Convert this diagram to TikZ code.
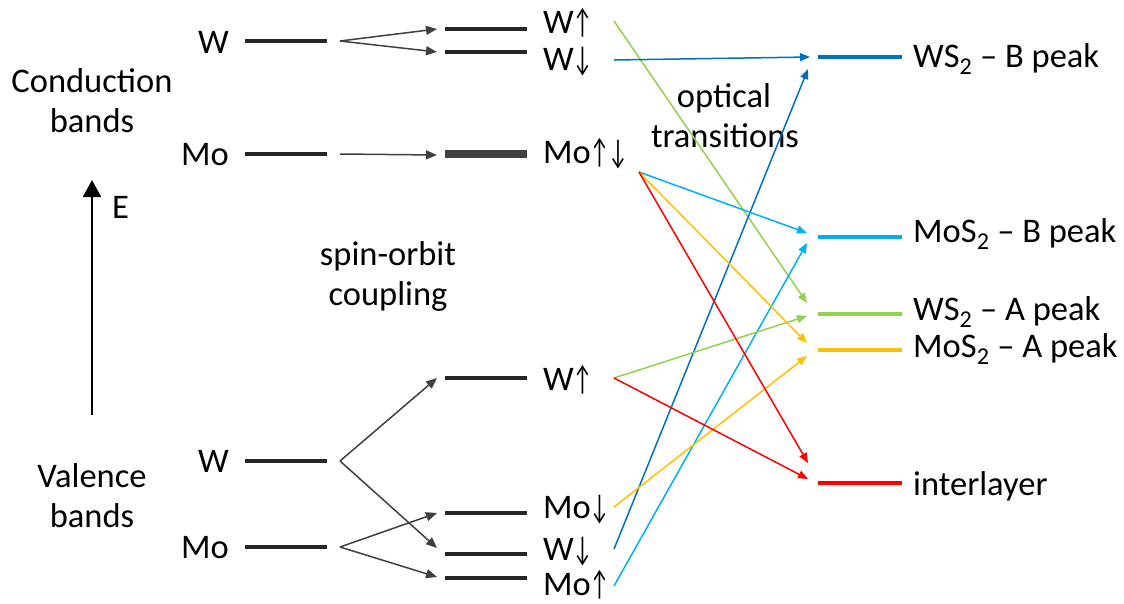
\documentclass[tikz,border=0pt]{standalone}
\usepackage{fontspec}
\setmainfont{Carlito}
\usepackage{xcolor}
\usetikzlibrary{arrows.meta}

\definecolor{lvlgray}{HTML}{262626}
\definecolor{arrgray}{HTML}{404040}
\definecolor{cWsB}{HTML}{0070C0}
\definecolor{cMsB}{HTML}{00B0F0}
\definecolor{cWsA}{HTML}{92D050}
\definecolor{cMsA}{HTML}{FFC000}
\definecolor{cIlay}{HTML}{FF0000}

\newcommand{\spu}{\kern-1pt\scalebox{0.62}[1]{↑}}
\newcommand{\spd}{\kern-1pt\scalebox{0.62}[1]{↓}}

\tikzset{
    lvl/.style={fill=lvlgray, inner sep=0pt, outer sep=0pt, minimum width=82pt, minimum height=4pt},
    split/.style={draw=arrgray, line width=1.5pt, -{Triangle[length=11pt,width=9pt]}},
    trans/.style={draw=#1, line width=1.5pt, -{Triangle[length=10pt,width=8pt]}},
    lab/.style={inner sep=0pt},
}

\begin{document}
\begin{tikzpicture}[x=1pt, y=-1pt, font=\fontsize{34.5}{41}\selectfont]
    \useasboundingbox (0,0) rectangle (1124,603);

    % energy axis
    \coordinate (ebot) at (92,415);
    \coordinate (etop) at (92,180);
    \draw[line width=2pt, -{Triangle[length=17pt,width=18pt]}] (ebot) -- (etop);
    \node[lab, anchor=base west] (elab) at (112,218) {E};
    \node[lab, anchor=base] (cond) at (92,92) {Conduction};
    \node[lab, anchor=base] (condb) at (92,132) {bands};
    \node[lab, anchor=base] (val) at (92,487) {Valence};
    \node[lab, anchor=base] (valb) at (92,527) {bands};

    % levels
    \foreach \nm/\x/\y in {wc/286/41, mc/286/154, wv/286/461, mv/286/547,
                           wcu/486/29, wcd/486/52, wvu/486/378, mvd/486/513, wvd/486/554, mvu/486/578}
        \node[lvl] (\nm) at (\x,\y) {};
    \node[lvl, fill=arrgray, minimum height=8pt] (mcud) at (486,154) {};
    \foreach \nm/\y/\col in {wsb/57/cWsB, msb/237/cMsB, wsa/314/cWsA, msa/350/cMsA, ilay/483/cIlay}
        \node[lvl, fill=\col, minimum width=84pt, minimum height=4.5pt] (\nm) at (860,\y) {};

    % level labels
    \foreach \nm/\txt/\y in {wc/W/53, mc/Mo/165, wv/W/472, mv/Mo/558}
        \node[lab, anchor=base east] (l\nm) at (229,\y) {\txt};
    \foreach \nm/\txt/\y in {wcu/W\spu/33, wcd/W\spd/70, mcud/Mo\spu\spd/163, wvu/W\spu/390,
                             mvd/Mo\spd/518, wvd/W\spd/560, mvu/Mo\spu/595}
        \node[lab, anchor=base west] (l\nm) at (543,\y) {\txt};
    \foreach \nm/\txt/\y in {wsb/{WS\textsubscript{2} – B peak}/67, msb/{MoS\textsubscript{2} – B peak}/242,
                             wsa/{WS\textsubscript{2} – A peak}/320, msa/{MoS\textsubscript{2} – A peak}/357, ilay/interlayer/495}
        \node[lab, anchor=base west] (l\nm) at (913,\y) {\txt};

    \node[lab, anchor=base] (soc) at (388,265) {spin-orbit};
    \node[lab, anchor=base] (socb) at (388,305) {coupling};
    \node[lab, anchor=base] (opt) at (724,107) {optical};
    \node[lab, anchor=base] (optb) at (725,147) {transitions};

    % spin-orbit splitting
    \foreach \a/\b/\dy in {wc/wcu/0, wc/wcd/0, mc/mcud/1, wv/wvu/0, wv/wvd/-6, mv/mvd/0, mv/mvu/-1}
        \draw[split] ([xshift=13pt]\a.east) -- ([shift={(-8,\dy)}]\b.west);

    % optical transitions
    \coordinate (swcu) at (614,21);
    \coordinate (swcd) at (614,60);
    \coordinate (smcud) at (639,172);
    \coordinate (swvu) at (614,378);
    \coordinate (smvd) at (614,507);
    \coordinate (swvd) at (614,549);
    \coordinate (smvu) at (614,586);
    \foreach \a/\b/\dx/\dy/\col in {swcu/wsa/-11/-11/cWsA, swcd/wsb/-8/0/cWsB, swvd/wsb/-10/12/cWsB,
                                    smcud/msb/-11/-4/cMsB, smvu/msb/-11/6/cMsB, swvu/wsa/-11/2/cWsA,
                                    smcud/msa/-11/-7/cMsA, smvd/msa/-11/6/cMsA,
                                    smcud/ilay/-10/-20/cIlay, swvu/ilay/-10/-4/cIlay}
        \draw[trans=\col] (\a) -- ([shift={(\dx,\dy)}]\b.west);
\end{tikzpicture}
\end{document}
